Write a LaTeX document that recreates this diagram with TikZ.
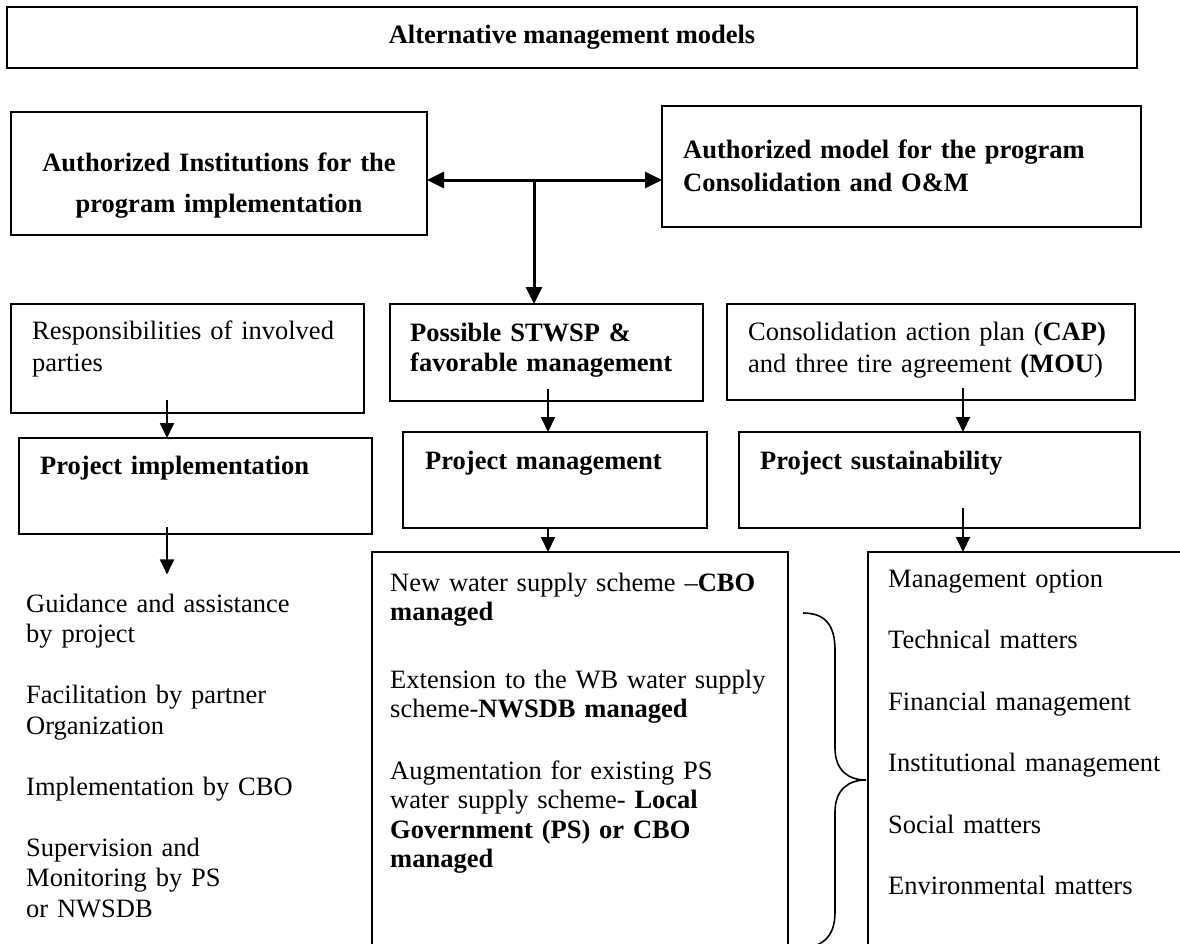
\documentclass[tikz,border=0pt]{standalone}
\usepackage{fontspec}
\setmainfont{Liberation Serif}
\usetikzlibrary{arrows.meta}
\tikzstyle{box} = [rectangle, draw=black, line width=1.6pt, inner sep=0pt, outer sep=0pt, anchor=north west]
\tikzstyle{txt} = [inner sep=0pt, anchor=base west, align=left, text width=420pt, font=\fontsize{26.5}{30.5}\selectfont]
\tikzstyle{btxt} = [txt, font=\fontsize{26.5}{30.5}\selectfont\bfseries]
\tikzstyle{arrow} = [line width=2pt, -{Triangle[length=15pt,width=14pt]}]
\tikzstyle{bigarrow} = [line width=3pt, {Triangle[length=17pt,width=16pt]}-{Triangle[length=17pt,width=16pt]}]

\begin{document}
\begin{tikzpicture}[x=1pt, y=-1pt]
\useasboundingbox (0,0) rectangle (1180,943);

% boxes
\node (title) [box, line width=2pt, minimum width=1130pt, minimum height=61pt, font=\fontsize{26.5}{30.5}\selectfont\bfseries] at (7,7) {Alternative management models};
\node (inst) [box, minimum width=416pt, minimum height=123pt] at (11,112) {};
\node (model) [box, minimum width=479pt, minimum height=121pt] at (662,106) {};
\node (resp) [box, minimum width=353pt, minimum height=109pt] at (11,304) {};
\node (stwsp) [box, minimum width=313pt, minimum height=97pt] at (390,304) {};
\node (cap) [box, minimum width=408pt, minimum height=96pt] at (727,304) {};
\node (impl) [box, minimum width=353pt, minimum height=96pt] at (19,438) {};
\node (mgmt) [box, minimum width=304pt, minimum height=96pt] at (403,432) {};
\node (sust) [box, minimum width=401pt, minimum height=96pt] at (739,432) {};
\node (scheme) [box, minimum width=416pt, minimum height=420pt] at (372,552) {};
\node (option) [box, minimum width=340pt, minimum height=420pt] at (868,552) {};

% texts
\node (insttxt) [btxt, anchor=base, align=center, text width=416pt, font=\fontsize{26.5}{41}\selectfont\bfseries] at (219,171) {Authorized Institutions for the\\ program implementation};
\node (modeltxt) [btxt, font=\fontsize{26.5}{33}\selectfont\bfseries] at (683,158) {Authorized model for the program\\ Consolidation and O\&M};
\node (resptxt) [txt, font=\fontsize{26.5}{32}\selectfont] at (32,339) {Responsibilities of involved\\ parties};
\node (stwsptxt) [btxt] at (410,341) {Possible STWSP \&\\ favorable management};
\node (captxt) [txt, font=\fontsize{26.5}{32}\selectfont] at (748,340) {Consolidation action plan (\textbf{CAP)}\\ and three tire agreement \textbf{(MOU})};
\node (impltxt) [btxt] at (40,474) {Project implementation};
\node (mgmttxt) [btxt] at (425,469) {Project management};
\node (susttxt) [btxt] at (760,469) {Project sustainability};
\node (guide) [txt] at (26,612) {Guidance and assistance\\ by project\\[30.5pt] Facilitation by partner\\ Organization\\[30.5pt] Implementation by CBO\\[30.5pt] Supervision and\\ Monitoring by PS\\ or NWSDB};
\node (schemetxt) [txt, font=\fontsize{26.5}{29.5}\selectfont] at (390,591) {New water supply scheme \textendash\textbf{CBO}\\ \textbf{managed}\\[38pt] Extension to the WB water supply\\ scheme-\textbf{NWSDB managed}\\[32pt] Augmentation for existing PS\\ water supply scheme- \textbf{Local}\\ \textbf{Government (PS) or CBO}\\ \textbf{managed}};
\node (optiontxt) [txt] at (888,587) {Management option\\[31pt] Technical matters\\[31pt] Financial management\\[31pt] Institutional management\\[31pt] Social matters\\[31pt] Environmental matters};

% connectors
\coordinate (hub) at (534,180);
\draw [bigarrow] (inst.east |- hub) -- (model.west |- hub);
\draw [line width=3pt, -{Triangle[length=17pt,width=16pt]}] (hub) -- (hub |- stwsp.north);
\draw [arrow] ([xshift=-20.5pt,yshift=13pt]resp.south) -- ([xshift=-20.5pt]resp.south |- impl.north);
\draw [arrow] ([xshift=-28.5pt,yshift=7pt]impl.south) -- ([xshift=-28.5pt,yshift=19pt]impl.south |- guide.north);
\draw [arrow] ([xshift=1.5pt,yshift=12pt]stwsp.south) -- ([xshift=1.5pt]stwsp.south |- mgmt.north);
\draw [arrow] ([xshift=-7pt]mgmt.south) -- ([xshift=-7pt]mgmt.south |- scheme.north);
\draw [arrow] ([xshift=32pt,yshift=12pt]cap.south) -- ([xshift=32pt]cap.south |- sust.north);
\draw [arrow] ([xshift=23.5pt,yshift=20pt]sust.south) -- ([xshift=23.5pt]sust.south |- option.north);

% brace
\draw [line width=1.6pt] (803,613) .. controls (825,613) and (835,625) .. (835,650) -- (835,748) .. controls (835,770) and (848,780) .. (866,780) .. controls (848,780) and (835,790) .. (835,812) -- (835,912) .. controls (835,932) and (827,942) .. (814,946);
\end{tikzpicture}
\end{document}
